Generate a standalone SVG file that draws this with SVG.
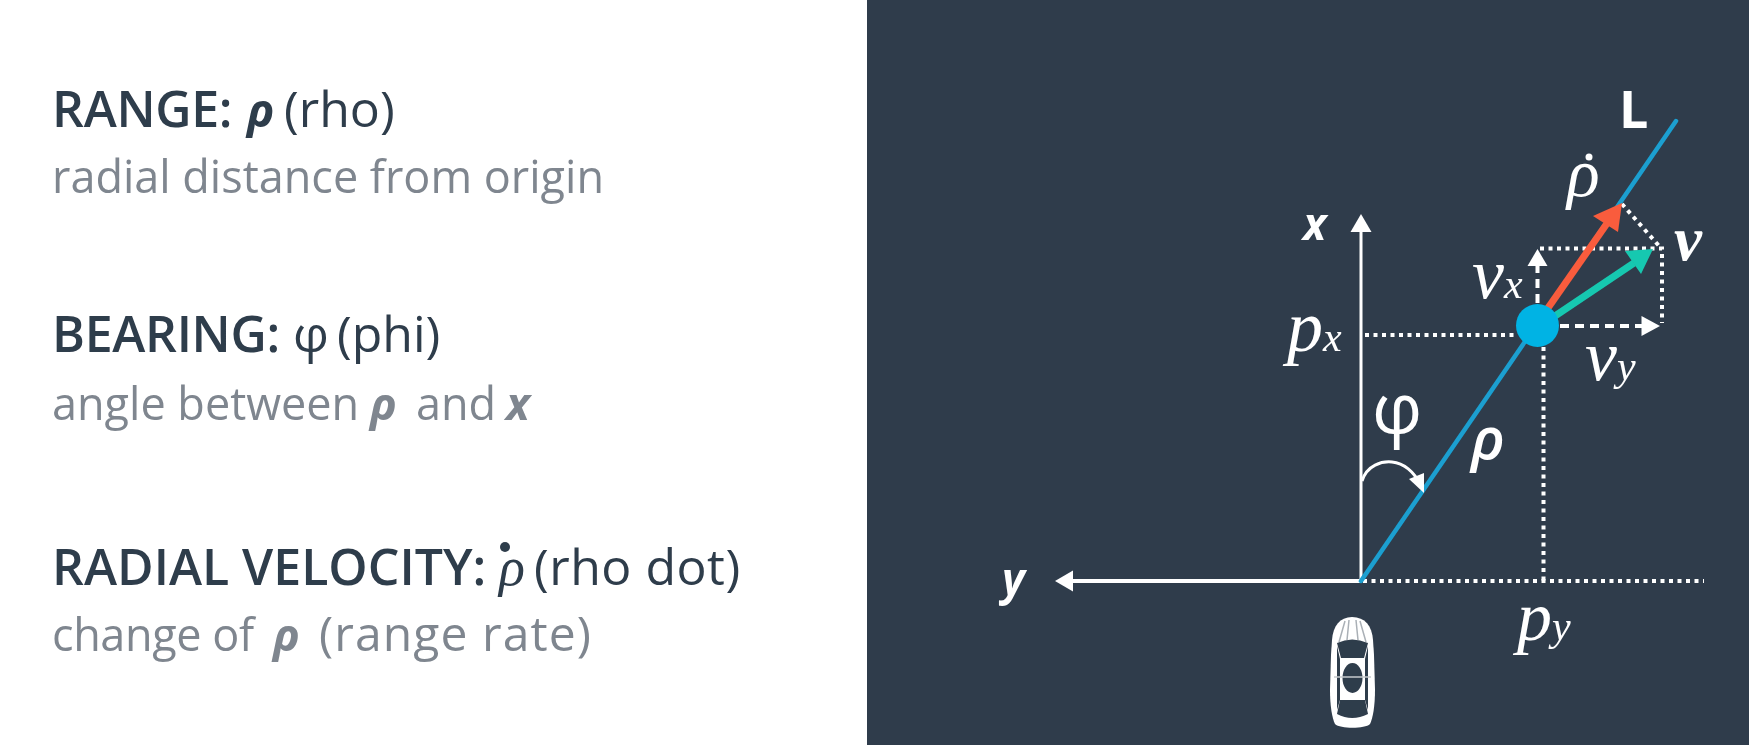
<svg xmlns="http://www.w3.org/2000/svg" width="1749" height="745" viewBox="0 0 1749 745">
<defs><filter id="soft" x="-5%" y="-5%" width="110%" height="110%"><feGaussianBlur stdDeviation="0.7"/></filter></defs>
<style>
.soft{filter:url(#soft)}
.h{font-family:"Open Sans","Liberation Sans",sans-serif;font-size:50px;fill:#2f3c4b}
.b{font-weight:600}
.s{font-family:"Open Sans","Liberation Sans",sans-serif;font-size:45px;fill:#7f868f}
.ri{font-style:italic;font-weight:700}
.si{font-family:"Liberation Serif",serif;font-style:italic}
.m{font-family:"Liberation Serif",serif;font-style:italic;fill:#fff}
.l{font-family:"Open Sans","Liberation Sans",sans-serif;fill:#fff}
.w{fill:none;stroke:#fff}
.dot{fill:none;stroke:#fff;stroke-width:4;stroke-dasharray:4 4.500}
.dash{fill:none;stroke:#fff;stroke-width:4;stroke-dasharray:9 6}
.hw{fill:#fff}
</style>
<rect width="1749" height="745" fill="#ffffff"/>
<rect id="panel" x="867" y="0" width="882" height="745" fill="#2f3c4b"/>
<g id="legend-range" class="soft">
<text class="h" x="52" y="127"><tspan class="b" letter-spacing="-0.3">RANGE:</tspan><tspan class="ri" x="247" font-size="46" font-weight="600">ρ</tspan><tspan x="284">(rho)</tspan></text>
<text class="s" x="52" y="193">radial distance from origin</text>
</g>
<g id="legend-bearing" class="soft">
<text class="h" x="52" y="352"><tspan class="b" letter-spacing="-0.3">BEARING:</tspan><tspan x="293">φ</tspan><tspan x="337">(phi)</tspan></text>
<text class="s" x="52" y="420">angle between <tspan class="ri" x="370">ρ</tspan><tspan x="416">and</tspan><tspan class="ri" x="506">x</tspan></text>
</g>
<g id="legend-velocity" class="soft">
<text class="h" x="52" y="585"><tspan class="b">RADIAL VELOCITY:</tspan></text>
<text class="h si" x="499" y="585" font-size="54" style="font-family:'Liberation Serif',serif;font-size:54px">ρ</text>
<circle cx="505" cy="547" r="5" fill="#2f3c4b"/>
<text class="h" x="534" y="585" letter-spacing="0.5">(rho dot)</text>
<text class="s" x="52" y="651"><tspan letter-spacing="-0.4">change of</tspan> <tspan class="ri" x="273">ρ</tspan><tspan x="319" font-size="48" letter-spacing="1.100">(range rate)</tspan></text>
</g>
<g id="connectors" class="soft">
<path class="w" stroke-width="3" d="M1361 581V230"/>
<path class="hw" d="M1361 214l10.500 18h-21z"/>
<path class="w" stroke-width="4" d="M1361 581H1070"/>
<path class="hw" d="M1055 581l18-10.500v21z"/>
<path class="dot" d="M1363 581H1704"/>
<path class="dot" d="M1543.500 347V581"/>
<path class="dot" d="M1365 335H1518"/>
<path d="M1361 581L1676 121" fill="none" stroke="#1a9fd0" stroke-width="4.500" stroke-linecap="round"/>
<path class="w" stroke-width="3" d="M1362 481C1367 465 1382 461 1392 462C1404 463 1414 472 1420 484"/>
<path class="hw" d="M1424 493l-15-14 15-6z"/>
<path class="dot" d="M1622 204L1660 247"/>
<path class="dot" d="M1540 248.500H1662V323"/>
<path class="dash" d="M1537.500 303V266"/>
<path class="hw" d="M1537.500 249l10 17h-20z"/>
<path class="dash" d="M1560 326H1642"/>
<path class="hw" d="M1660 326l-18.500-10v20z"/>
<path d="M1548 308L1608 222" stroke="#f95c3c" stroke-width="7" fill="none"/>
<path d="M1622 203L1618 232L1593 216z" fill="#f95c3c"/>
<path d="M1555 316L1634 263" stroke="#19c8b0" stroke-width="7" fill="none"/>
<path d="M1653 249L1641 274L1625 251z" fill="#19c8b0"/>
</g>
<g id="point" class="soft"><circle cx="1537.500" cy="325.500" r="21.500" fill="#02b3e4"/></g>
<g id="car" class="soft">
<path fill="#fff" d="M1352 617C1340 617 1333 626 1332 640L1331 655L1330 690C1330 705 1332 718 1335 724C1340 729 1365 729 1370 724C1373 718 1375 705 1375 690L1374 655L1373 640C1372 626 1365 617 1352 617z"/>
<g stroke="#aab0b6" stroke-width="1.500" fill="none"><path d="M1345 621L1339 642M1349 620L1347 640M1356 620L1358 640M1360 621L1366 642"/></g>
<path fill="#2f3c4b" d="M1337 643Q1352 636 1368 643L1364 658H1341z"/>
<path fill="#2f3c4b" d="M1337 646L1340 659V700L1337 710z"/>
<path fill="#2f3c4b" d="M1368 646L1365 659V700L1368 710z"/>
<path fill="#2f3c4b" d="M1340 700H1365L1368 714Q1352 722 1337 714z"/>
<ellipse cx="1352.500" cy="678" rx="10" ry="15" fill="#2f3c4b"/>
<path d="M1334 677H1371" stroke="#c6cacd" stroke-width="1.500"/>
</g>
<g id="labels" class="soft">
<text class="l" x="1619" y="128" font-size="52" font-weight="700">L</text>
<text class="m" x="1567" y="196" font-size="68">ρ</text>
<circle cx="1589" cy="157" r="3.500" fill="#fff"/>
<text class="m" x="1674" y="260" font-size="63" font-weight="700">v</text>
<text class="m" x="1472" y="298" font-size="72">v<tspan font-size="42">x</tspan></text>
<text class="m" x="1287" y="351" font-size="72">p<tspan font-size="42">x</tspan></text>
<text class="m" x="1585" y="380" font-size="72">v<tspan font-size="42">y</tspan></text>
<text class="m" x="1517" y="640" font-size="70">p<tspan font-size="42">y</tspan></text>
<text class="l" x="1303" y="240" font-size="44" font-weight="700" font-style="italic">x</text>
<text class="l" x="1002" y="595" font-size="44" font-weight="700" font-style="italic">y</text>
<text class="l" x="1372" y="433" font-size="70">φ</text>
<text class="l" x="1471" y="459" font-size="58" font-weight="600" font-style="italic">ρ</text>
</g>
</svg>
